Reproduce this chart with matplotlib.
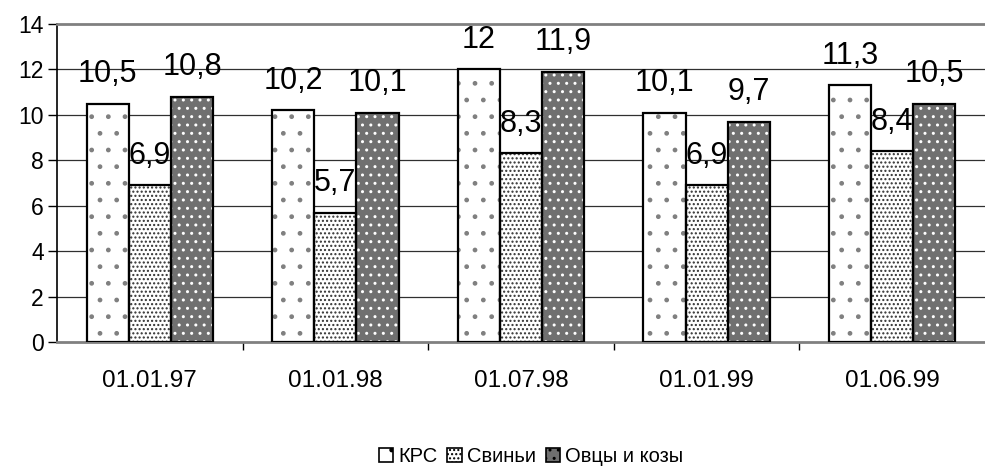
import numpy as np
import matplotlib
matplotlib.use("Agg")
import matplotlib.pyplot as plt
from matplotlib.patches import Patch

plt.rcParams['font.family'] = ['Liberation Sans', 'DejaVu Sans']
plt.rcParams['hatch.linewidth'] = 1.0

dates = ["01.01.97", "01.01.98", "01.07.98", "01.01.99", "01.06.99"]
series_names = ["КРС", "Свиньи", "Овцы и козы"]
krs = [10.5, 10.2, 12, 10.1, 11.3]
svini = [6.9, 5.7, 8.3, 6.9, 8.4]
ovtsy = [10.8, 10.1, 11.9, 9.7, 10.5]

# face colour, hatch, hatch colour for each series
styles = [("white", ".", "#808080"),
          ("white", "....", "#303030"),
          ("#707070", "..", "white")]


def fmt(v):
  s = f"{v:g}"
  return s.replace(".", ",")


fig = plt.figure(figsize=(9.85, 4.69), dpi=100)
ax = fig.add_axes([0.0579, 0.2708, 0.9421, 0.678])

x = np.arange(len(dates))
width = 0.227
series = [krs, svini, ovtsy]

for i, (vals, (fc, hatch, hc)) in enumerate(zip(series, styles)):
  pos = x + (i - 1) * width
  # hatch layer (hatch colour follows edgecolor), then outline on top
  ax.bar(pos, vals, width, color=fc, edgecolor=hc, hatch=hatch, linewidth=0, zorder=3)
  ax.bar(pos, vals, width, fill=False, edgecolor="black", linewidth=1.6, zorder=4)
  for p, v in zip(pos, vals):
    ax.annotate(fmt(v), (p, v), xytext=(0, 15.5), textcoords="offset points",
                ha="center", va="baseline", fontsize=22, zorder=5)

ax.set_xlim(-0.5, len(dates) - 0.5)
ax.set_ylim(0, 14)
ax.set_yticks(np.arange(0, 15, 2))
ax.tick_params(axis="y", labelsize=16.5, length=6.5, width=1, direction="out", pad=3)

ax.set_xticks(x)
ax.set_xticklabels(dates)
ax.tick_params(axis="x", which="major", length=0, labelsize=17.5, pad=20)
ax.set_xticks(np.arange(-0.5, len(dates), 1)[1:-1], minor=True)
ax.tick_params(axis="x", which="minor", length=6, width=1, direction="out")

for yv in range(2, 14, 2):
  ax.axhline(yv, color="#303030", linewidth=0.9, zorder=1)

ax.spines["right"].set_visible(False)
ax.spines["top"].set_color("#808080")
ax.spines["top"].set_linewidth(2)
ax.spines["bottom"].set_color("#808080")
ax.spines["bottom"].set_linewidth(2)
ax.spines["left"].set_color("black")
ax.spines["left"].set_linewidth(1.2)

handles = [Patch(facecolor=fc, edgecolor="black", hatch=h, linewidth=1.2) for fc, h, hc in styles]
fig.legend(handles, series_names, loc="center", bbox_to_anchor=(0.539, 0.026), ncol=3,
           frameon=False, fontsize=14.5, handlelength=0.7, handleheight=0.7,
           handletextpad=0.25, columnspacing=0.5)

fig.savefig("out.png", dpi=100)
